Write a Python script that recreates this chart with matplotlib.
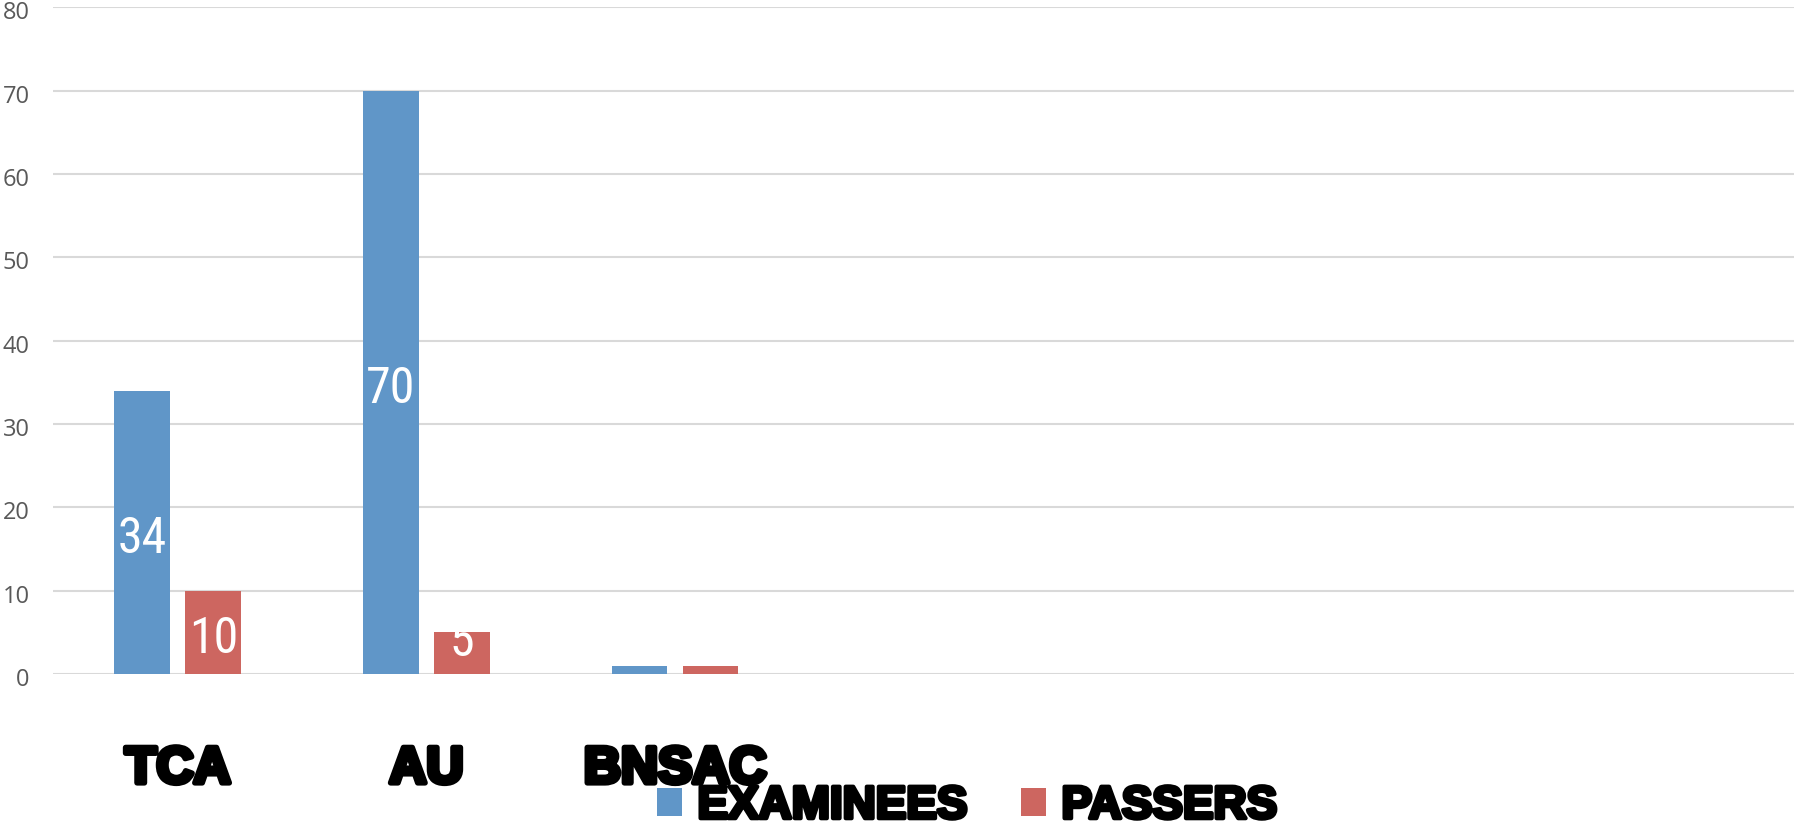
from matplotlib import pyplot as plt
from matplotlib import patheffects
from matplotlib import font_manager
import matplotlib.transforms as mtransforms
import numpy as np

# data
categories = ['TCA', 'AU', 'BNSAC', '', '', '', '']
examinees = [34, 70, 1, 0, 0, 0, 0]
passers = [10, 5, 1, 0, 0, 0, 0]
series_names = ['EXAMINEES', 'PASSERS']
y_ticks = [0, 10, 20, 30, 40, 50, 60, 70, 80]

BLUE = '#6096c8'
RED = '#cd6660'
GRID = '#d9d9d9'

# pick a narrow face for the data labels if one is installed
fonts = font_manager.fontManager.ttflist
names = {f.name for f in fonts}
narrow_family, narrow_stretch = 'Liberation Sans', 'normal'
for cand in ['Liberation Sans Narrow', 'Roboto Condensed', 'Open Sans Condensed', 'Noto Sans Condensed']:
    if cand in names:
        narrow_family = cand
        break
else:
    for f in fonts:
        if f.name in ('DejaVu Sans', 'Noto Sans', 'Roboto', 'Open Sans') and f.stretch == 'condensed':
            narrow_family, narrow_stretch = f.name, 'condensed'
            break

fig = plt.figure(figsize=(17.94, 8.21), dpi=100)
ax = fig.add_axes([0.0298, 1 - 674 / 821, 1 - 0.0298, (674 - 7.5) / 821])

n = len(categories)
x = np.arange(n)
width = 0.224
offset = 0.143

bars1 = ax.bar(x - offset, examinees, width, color=BLUE, label=series_names[0], zorder=2)
bars2 = ax.bar(x + offset, passers, width, color=RED, label=series_names[1], zorder=2)

# data labels, centred in the bar but kept off the axis line
for bars, vals in ((bars1, examinees), (bars2, passers)):
    for b, v in zip(bars, vals):
        if v <= 0:
            continue
        ax.annotate(str(v), (b.get_x() + b.get_width() / 2, max(v / 2, 4.7)),
                    xytext=(0, -5), textcoords='offset points',
                    ha='center', va='center', color='white', fontsize=36,
                    family=narrow_family, fontstretch=narrow_stretch, zorder=3)

ax.set_xlim(-0.5, n - 0.5)
ax.set_ylim(0, 80)
ax.set_yticks(y_ticks)
ax.yaxis.grid(True, color=GRID, linewidth=1.5, zorder=0)
ax.set_axisbelow(True)
for s in ax.spines.values():
    s.set_visible(False)

ax.set_xticks(x)
ax.set_xticklabels(categories)
ax.tick_params(axis='x', length=0, pad=51)
ax.tick_params(axis='y', length=0, pad=17, labelsize=17, labelcolor='#595959')
shift = mtransforms.ScaledTranslation(0, -3 / 100, fig.dpi_scale_trans)
for lbl in ax.get_yticklabels():
    lbl.set_family('Open Sans')
    lbl.set_transform(lbl.get_transform() + shift)

stroke = [patheffects.withStroke(linewidth=4, foreground='black')]
for lbl in ax.get_xticklabels():
    lbl.set_fontsize(37)
    lbl.set_fontweight('bold')
    lbl.set_family('Liberation Sans')
    lbl.set_path_effects(stroke)

leg = fig.legend(loc='center', bbox_to_anchor=(0.539, 0.018), ncol=2, frameon=False,
                 prop={'family': 'Liberation Sans', 'weight': 'bold', 'size': 33},
                 handlelength=0.55, handleheight=0.55, handletextpad=0.34,
                 columnspacing=1.15, borderpad=0)
for t in leg.get_texts():
    t.set_path_effects([patheffects.withStroke(linewidth=3, foreground='black')])

fig.savefig('out.png', dpi=100)
